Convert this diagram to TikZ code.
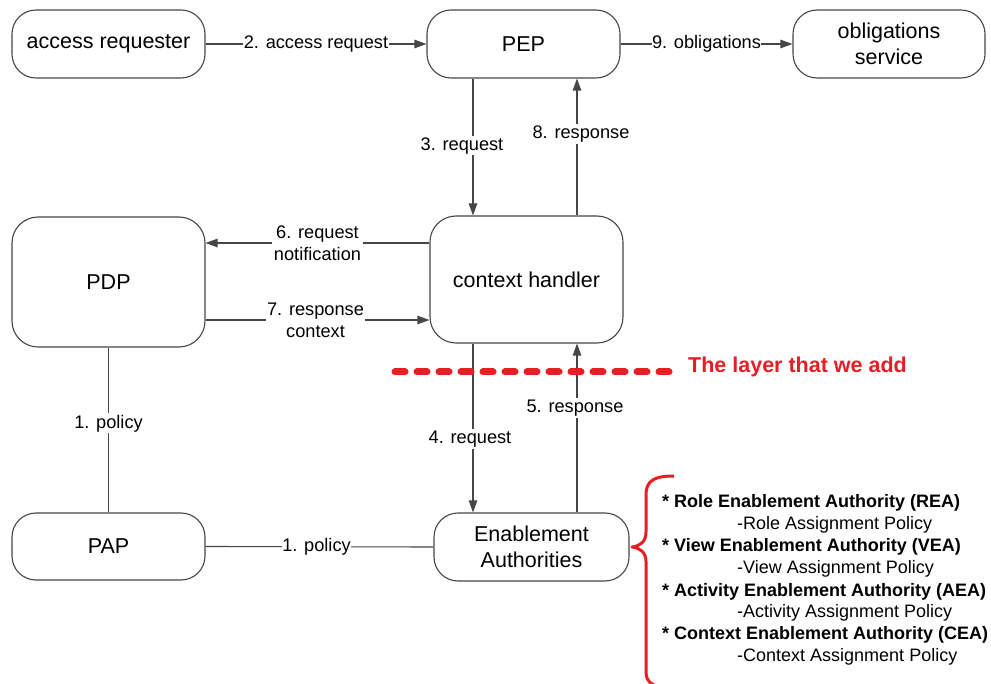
\documentclass[tikz,border=0pt]{standalone}
\usepackage{fontspec}
\setmainfont{Liberation Sans}
\usetikzlibrary{arrows.meta}
\definecolor{lred}{RGB}{232,30,36}
\definecolor{lgray}{RGB}{70,70,70}
\begin{document}
\begin{tikzpicture}[x=1pt,y=-1pt,
  box/.style={draw=lgray, line width=1.1pt, rounded corners=24pt, align=center,
    font=\fontsize{21.5}{26}\selectfont, inner sep=0pt},
  lab/.style={fill=white, font=\fontsize{18.2}{22}\selectfont, inner sep=1.5pt, align=center},
  hlab/.style={lab, inner xsep=0.5pt},
  conn/.style={draw=lgray, line width=1.1pt},
  arr/.style={conn, -{Triangle[length=12pt,width=8.5pt]}},
  lst/.style={anchor=west, inner sep=0pt, font=\fontsize{18}{22}\selectfont},
  lstb/.style={lst, font=\fontsize{18}{22}\selectfont\bfseries}]
\useasboundingbox (0,0) rectangle (991,684);
\fill[white] (0,0) rectangle (991,684);

\node[box, minimum width=193pt, minimum height=68pt] (ar) at (108.5,44) {access requester};
\node[box, minimum width=193pt, minimum height=68pt] (pep) at (523.5,44) {PEP};
\node[box, minimum width=192pt, minimum height=68pt] (obl) at (889,44) {obligations\\service};
\node[box, minimum width=193pt, minimum height=130pt, rounded corners=26pt] (pdp) at (108.5,282) {PDP};
\node[box, minimum width=193pt, minimum height=127pt, rounded corners=26pt] (ch) at (526.5,279.5) {context handler};
\node[box, minimum width=193pt, minimum height=67pt] (pap) at (108.5,546.5) {PAP};
\node[box, minimum width=195pt, minimum height=68pt] (ea) at (531.5,547) {Enablement\\Authorities};

\coordinate (xl) at (473,0);
\coordinate (xr) at (577,0);
\coordinate (y6) at (0,243);
\coordinate (y7) at (0,320);

\draw[arr] (ar.east) -- node[hlab]{2. access request} (pep.west);
\draw[arr] (pep.east) -- node[hlab]{9. obligations} (obl.west);
\draw[arr] (xl |- pep.south) -- node[lab, pos=0.49, xshift=-11pt]{3. request} (xl |- ch.north);
\draw[arr] (xr |- ch.north) -- node[lab, pos=0.594, xshift=4pt]{8. response} (xr |- pep.south);
\draw[arr] (ch.west |- y6) -- node[lab]{6. request\\notification} (pdp.east |- y6);
\draw[arr] (pdp.east |- y7) -- node[lab, xshift=-2pt]{7. response\\context} (ch.west |- y7);
\draw[conn] (pdp.south) -- node[lab, pos=0.46]{1. policy} (pap.north);
\draw[conn] (pap.east) -- node[hlab, xshift=-3pt]{1. policy} (ea.west);
\draw[arr] (xl |- ch.south) -- node[lab, pos=0.565, xshift=-3pt]{4. request} (xl |- ea.north);
\draw[arr] (xr |- ea.north) -- node[lab, pos=0.618, xshift=-2pt]{5. response} (xr |- ch.south);

% layer line
\coordinate (la) at (395,372);
\coordinate (lb) at (672,372);
\draw[lred, line width=7pt, line cap=round, dash pattern=on 10pt off 12pt] (la) -- (lb);
\node[anchor=west, inner sep=0pt, text=lred, font=\fontsize{21.5}{26}\selectfont\bfseries] (layer) at (688,367) {The layer that we add};

% brace
\draw[lred, line width=3pt, line join=round]
  (674,476) .. controls (655,476) and (646,480) .. (646,495)
  -- (646,532) .. controls (646,542) and (640,546) .. (632,547)
  .. controls (640,548) and (646,552) .. (646,562)
  -- (646,672) .. controls (646,684) and (655,688) .. (674,688);

\node[lstb] (l1) at (662,503) {* Role Enablement Authority (REA)};
\node[lst]  (l2) at (737,525) {-Role Assignment Policy};
\node[lstb] (l3) at (662,547) {* View Enablement Authority (VEA)};
\node[lst]  (l4) at (737,569) {-View Assignment Policy};
\node[lstb] (l5) at (662,592) {* Activity Enablement Authority (AEA)};
\node[lst]  (l6) at (737,613) {-Activity Assignment Policy};
\node[lstb] (l7) at (662,635) {* Context Enablement Authority (CEA)};
\node[lst]  (l8) at (737,657) {-Context Assignment Policy};
\end{tikzpicture}
\end{document}
